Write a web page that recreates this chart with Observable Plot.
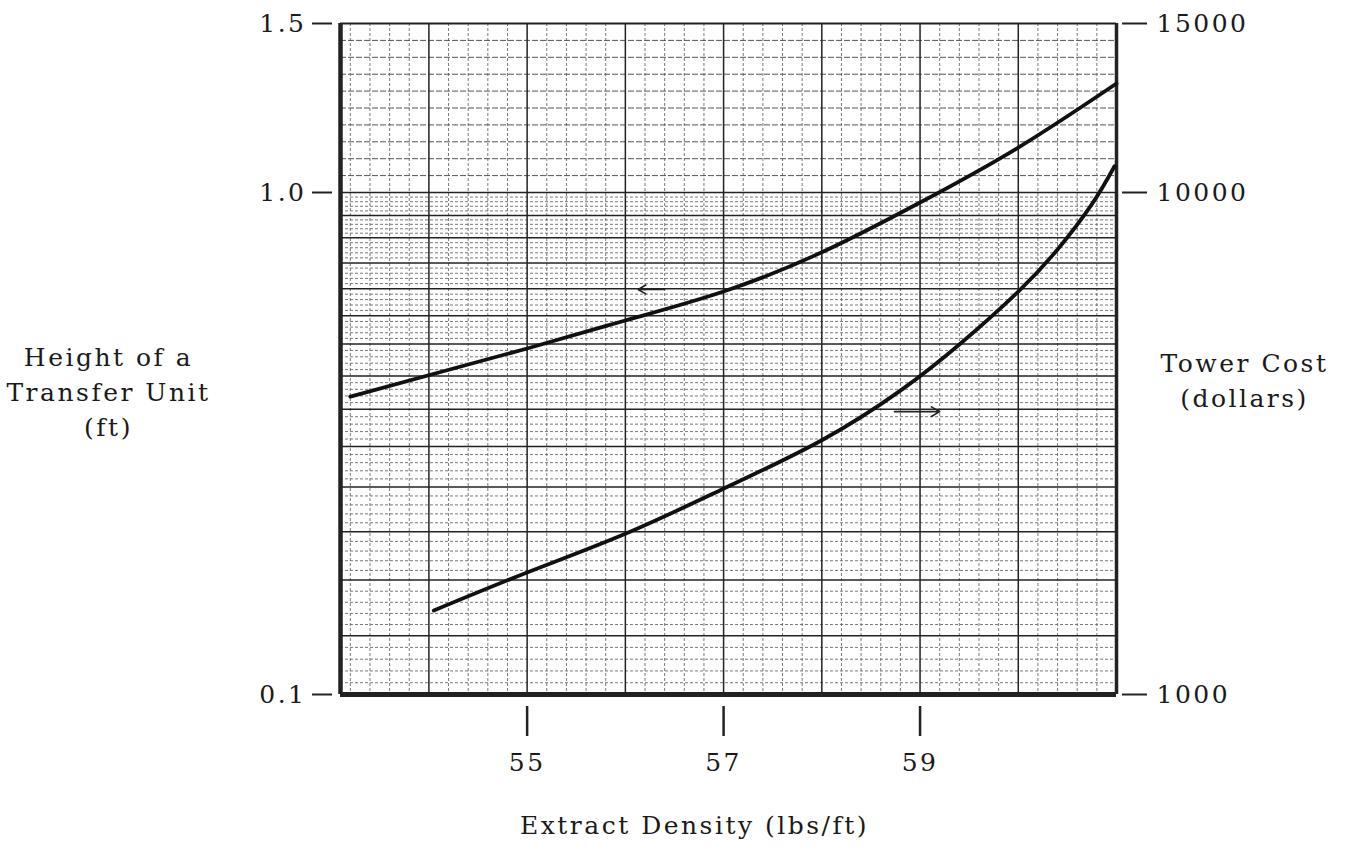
<!DOCTYPE html>
<html>
<head>
<meta charset="utf-8">
<script src="https://cdn.jsdelivr.net/npm/d3@7"></script>
<script src="https://cdn.jsdelivr.net/npm/@observablehq/plot@0.6"></script>
<style>
  html, body { margin: 0; padding: 0; background: #fff; overflow: hidden; }
</style>
</head>
<body>
<div id="chart"></div>
<script>
// ---- data ----
// Height of a Transfer Unit (ft) vs extract density (left axis)
const htuDensity = [53.2, 54.1, 55.0, 56.0, 57.0, 58.0, 59.0, 60.0, 61.0];
const htuFeet    = [0.392, 0.438, 0.489, 0.556, 0.635, 0.76, 0.955, 1.114, 1.299];
// Tower cost (dollars) vs extract density (right axis)
const costDensity = [54.05, 55.0, 56.0, 57.0, 58.0, 58.8, 59.4, 60.0, 60.4, 60.75, 60.98];
const costDollars = [1470, 1750, 2090, 2570, 3210, 4030, 4980, 6350, 7700, 9480, 10650];
// axis ticks
const xTicks = [55, 57, 59];
const leftTicks = [0.1, 1.0, 1.5];
const rightTicks = [1000, 10000, 15000];
// direction arrows (which axis each curve belongs to)
const arrowFrom = [56.4, 58.74];
const arrowTo   = [56.13, 59.2];
const arrowAt   = [0.641, 0.366];
// graph-paper rulings
const paperMajorX = [54, 55, 56, 57, 58, 59, 60];
const paperMajorY = [0.1, 0.131, 0.169, 0.211, 0.259, 0.312, 0.370, 0.431, 0.499, 0.568, 0.643, 0.724, 0.813, 0.90, 1.0];

const xDomain = [53.1, 61.0];
const yDomain = [0.1, 1.0, 1.5];

const htu = htuDensity.map((x, i) => ({x, y: htuFeet[i]}));
const cost = costDensity.map((x, i) => ({x, cost: costDollars[i]}));
const arrows = arrowFrom.map((x1, i) => ({x1, x2: arrowTo[i], y: arrowAt[i]}));

// minor rulings
const minorX = d3.range(53.2, 61.0, 0.2).map(v => +v.toFixed(1)).filter(v => !paperMajorX.includes(v));
const minorY = [];
for (let i = 0; i < paperMajorY.length - 1; i++) {
  const a = Math.log(paperMajorY[i]), b = Math.log(paperMajorY[i + 1]);
  for (let k = 1; k < 5; k++) minorY.push(Math.exp(a + (b - a) * k / 5));
}
const topY = d3.range(1, 10).map(k => Math.pow(1.5, k / 10));

const font = "'DejaVu Serif', 'Liberation Serif', serif";

const chart = Plot.plot({
  width: 1347,
  height: 856,
  marginLeft: 340,
  marginRight: 231,
  marginTop: 23,
  marginBottom: 162,
  style: {fontFamily: font, fontSize: "25px", letterSpacing: "2.5px", color: "#1a1a1a", background: "#fff"},
  x: {domain: xDomain},
  y: {type: "log", domain: yDomain, range: [694, 192, 23]},
  marks: [
    // graph paper
    Plot.ruleX(minorX, {stroke: "#6a6a6a", strokeWidth: 0.9, strokeDasharray: "3,2"}),
    Plot.ruleY(minorY, {stroke: "#6a6a6a", strokeWidth: 0.9, strokeDasharray: "3,2"}),
    Plot.ruleY(topY, {stroke: "#555", strokeWidth: 1, strokeDasharray: "6,2"}),
    Plot.ruleX(paperMajorX, {stroke: "#222", strokeWidth: 1.5}),
    Plot.ruleY(paperMajorY, {stroke: "#222", strokeWidth: 1.5}),
    // border
    Plot.ruleY([yDomain[2]], {stroke: "#222", strokeWidth: 2}),
    Plot.ruleX([xDomain[1]], {stroke: "#222", strokeWidth: 3.5}),
    Plot.ruleX([xDomain[0]], {stroke: "#222", strokeWidth: 4.5}),
    Plot.ruleY([yDomain[0]], {stroke: "#222", strokeWidth: 5}),
    // curves
    Plot.line(htu, {x: "x", y: "y", curve: "natural", stroke: "#111", strokeWidth: 3.8}),
    Plot.line(cost, {x: "x", y: d => d.cost / 10000, curve: "natural", stroke: "#111", strokeWidth: 3.8}),
    Plot.arrow(arrows, {x1: "x1", x2: "x2", y1: "y", y2: "y", stroke: "#222", strokeWidth: 1.6, headLength: 9}),
    // axes
    Plot.axisY(leftTicks, {anchor: "left", tickSize: 20, dx: -8, tickPadding: 6, tickFormat: d3.format(".1f"), label: null, stroke: "#222", strokeWidth: 2}),
    Plot.axisY(rightTicks.map(d => d / 10000), {anchor: "right", tickSize: 25, dx: 5, tickPadding: 10, tickFormat: d => String(Math.round(d * 10000)), label: null, stroke: "#222", strokeWidth: 2}),
    Plot.axisX(xTicks, {anchor: "bottom", tickSize: 30, dy: 12, tickPadding: 17, label: null, stroke: "#222", strokeWidth: 2.5}),
    // axis titles
    Plot.text(["Height of a\nTransfer Unit\n(ft)"], {frameAnchor: "left", dx: -232, dy: 31, textAnchor: "middle", lineHeight: 1.4, fontSize: 25, fill: "#1a1a1a"}),
    Plot.text(["Tower Cost\n(dollars)"], {frameAnchor: "right", dx: 128, dy: 19, textAnchor: "middle", lineHeight: 1.4, fontSize: 25, fill: "#1a1a1a"}),
    Plot.text(["Extract Density (lbs/ft)"], {frameAnchor: "bottom", dx: -34, dy: 139, textAnchor: "middle", fontSize: 25, fill: "#1a1a1a"})
  ]
});
document.getElementById("chart").append(chart);
</script>
</body>
</html>
